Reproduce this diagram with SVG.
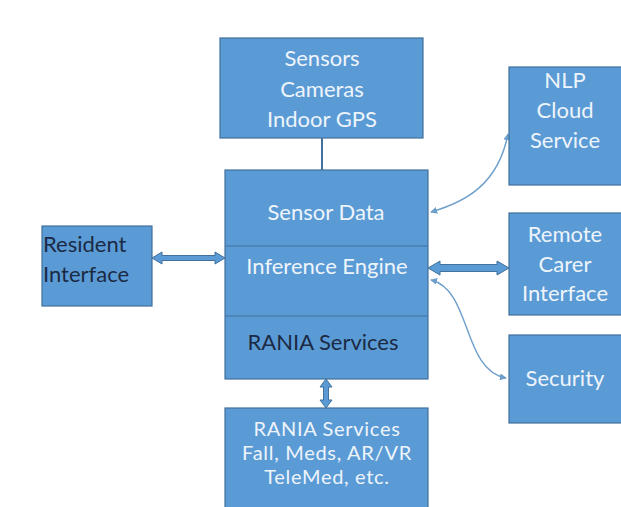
<svg xmlns="http://www.w3.org/2000/svg" width="621" height="507" viewBox="0 0 621 507">
  <defs>
    <style>
      .box { fill: #5b9bd5; stroke: #41719c; stroke-width: 1.2; }
      .div { stroke: #41719c; stroke-width: 1; }
      .lt { font-family: Lato, "Open Sans", "Liberation Sans", sans-serif; font-size: 22px; fill: #eef4fb; text-anchor: middle; }
      .dk { font-family: Lato, "Open Sans", "Liberation Sans", sans-serif; font-size: 22px; fill: #1b2a44; }
      .sm { font-size: 20px; letter-spacing: 0.7px; }
      .blk { fill: #5b9bd5; stroke: #41719c; stroke-width: 1; }
      .thin { fill: none; stroke: #6e9fcb; stroke-width: 1.4; }
    </style>
    <marker id="head" viewBox="0 0 8 8" refX="7" refY="4" markerWidth="7" markerHeight="7" orient="auto-start-reverse" markerUnits="userSpaceOnUse">
      <path d="M0,0 L8,4 L0,8 z" fill="#6e9fcb"/>
    </marker>
  </defs>
  <rect width="621" height="507" fill="#ffffff"/>

  <g id="connectors">
    <line x1="322" y1="138" x2="322" y2="170" stroke="#41719c" stroke-width="2"/>
    <!-- resident <-> core -->
    <polygon class="blk" points="152,258 162,252 162,255.5 215,255.5 215,252 225,258 215,264 215,260.5 162,260.5 162,264"/>
    <!-- core <-> remote carer -->
    <polygon class="blk" points="428,268 440,261 440,264.5 497,264.5 497,261 509,268 497,275 497,271.5 440,271.5 440,275"/>
    <!-- core <-> services -->
    <polygon class="blk" points="326,379 332,387 328.5,387 328.5,400 332,400 326,408 320,400 323.5,400 323.5,387 320,387"/>
    <!-- curved links -->
    <path class="thin" d="M508,134 C498,185 465,202 431,212" marker-start="url(#head)" marker-end="url(#head)"/>
    <path class="thin" d="M431,280 C472,290 462,370 506,378" marker-start="url(#head)" marker-end="url(#head)"/>
  </g>

  <g id="sensors">
    <rect class="box" x="220" y="38" width="203" height="100"/>
    <text class="lt" x="322" y="66">Sensors</text>
    <text class="lt" x="322" y="97">Cameras</text>
    <text class="lt" x="322" y="127">Indoor GPS</text>
  </g>

  <g id="core">
    <rect class="box" x="225" y="170" width="203" height="209"/>
    <line class="div" x1="225" y1="246" x2="428" y2="246"/>
    <line class="div" x1="225" y1="316" x2="428" y2="316"/>
    <text class="lt" x="326" y="220">Sensor Data</text>
    <text class="lt" x="327" y="274">Inference Engine</text>
    <text class="dk" x="323" y="350" text-anchor="middle">RANIA Services</text>
  </g>

  <g id="resident">
    <rect class="box" x="42" y="226" width="110" height="80"/>
    <text class="dk" x="43" y="252">Resident</text>
    <text class="dk" x="43" y="282">Interface</text>
  </g>

  <g id="nlp">
    <rect class="box" x="509" y="67" width="115" height="118"/>
    <text class="lt" x="565" y="88">NLP</text>
    <text class="lt" x="565" y="118">Cloud</text>
    <text class="lt" x="565" y="148">Service</text>
  </g>

  <g id="remote">
    <rect class="box" x="509" y="213" width="115" height="102"/>
    <text class="lt" x="565" y="242">Remote</text>
    <text class="lt" x="565" y="272">Carer</text>
    <text class="lt" x="565" y="301">Interface</text>
  </g>

  <g id="security">
    <rect class="box" x="509" y="335" width="115" height="88"/>
    <text class="lt" x="565" y="386">Security</text>
  </g>

  <g id="services">
    <rect class="box" x="225" y="408" width="203" height="104"/>
    <text class="lt sm" x="327" y="436">RANIA Services</text>
    <text class="lt sm" x="327" y="460">Fall, Meds, AR/VR</text>
    <text class="lt sm" x="327" y="484">TeleMed, etc.</text>
  </g>
</svg>
